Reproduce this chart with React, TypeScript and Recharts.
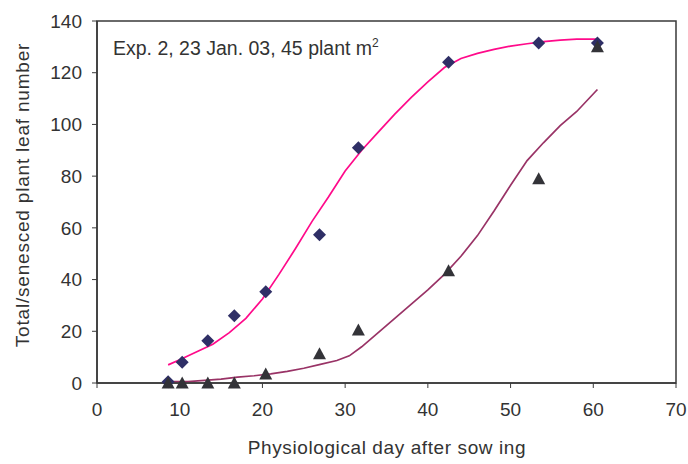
import React from 'react';
import { ComposedChart, Line, Scatter, XAxis, YAxis, ReferenceArea, Label } from 'recharts';

// Observed data
const obsDays = [8.6, 10.3, 13.4, 16.6, 20.4, 26.9, 31.6, 42.5, 53.4, 60.5];
const totalObs = [0.5, 8, 16.3, 26, 35.3, 57.3, 91, 124, 131.5, 131.5];
const senescedObs = [0, 0, 0, 0, 3.5, 11.3, 20.5, 43.4, 79, 130];

// Simulated curves
const totalSimDays = [8.6, 10, 12, 14, 16, 18, 20, 22, 24, 26, 28, 30, 32, 34, 36, 38, 40, 42, 44, 46, 48, 50, 52, 54, 56, 58, 60.5];
const totalSim = [7, 9, 12, 15, 19.5, 25, 32.5, 42, 52, 62.5, 72, 82, 90, 97, 104, 110.5, 116.5, 122, 125.5, 127.5, 129, 130.3, 131.2, 132, 132.6, 133, 133];
const senSimDays = [9.2, 11, 13, 15, 17, 19, 21, 23, 25, 27, 29, 30.5, 32, 34, 36, 38, 40, 42, 44, 46, 48, 50, 52, 54, 56, 58, 60.5];
const senSim = [0.5, 0.5, 1, 1.5, 2.3, 2.8, 3.5, 4.5, 5.7, 7.2, 8.7, 10.5, 14, 19.5, 25, 30.5, 36, 42, 49, 57, 66.5, 76.5, 86, 93, 99.5, 105, 113.5];

const xTicks = [0, 10, 20, 30, 40, 50, 60, 70];
const yTicks = [0, 20, 40, 60, 80, 100, 120, 140];

const xTitle = 'Physiological day after sow ing';
const yTitle = 'Total/senesced plant leaf number';

const zip = (xs: number[], ys: number[]) => xs.map((x, i) => ({ x, y: ys[i] }));
const totalObsData = zip(obsDays, totalObs);
const senObsData = zip(obsDays, senescedObs);
const totalSimData = zip(totalSimDays, totalSim);
const senSimData = zip(senSimDays, senSim);

const FONT = '"Liberation Sans", Arial, sans-serif';
const AXIS = '#3a3a3a';

const Diamond = (props: any) => {
  const { cx, cy } = props;
  const r = 6.5;
  return <path d={`M${cx},${cy - r}L${cx + r},${cy}L${cx},${cy + r}L${cx - r},${cy}Z`} fill="#2f2f66" />;
};
const Triangle = (props: any) => {
  const { cx, cy } = props;
  const w = 6.5;
  return <path d={`M${cx},${cy - 6.5}L${cx + w},${cy + 5.5}L${cx - w},${cy + 5.5}Z`} fill="#333338" />;
};

export default function App() {
  return (
    <div style={{ position: 'absolute', left: 0, top: 0, width: 688, height: 464, background: '#fff' }}>
      <ComposedChart width={688} height={464} margin={{ top: 21, right: 12, bottom: 0, left: 0 }}>
        <XAxis
          type="number"
          dataKey="x"
          domain={[0, 70]}
          ticks={xTicks}
          allowDataOverflow
          height={81}
          tickSize={5}
          tickMargin={15}
          axisLine={{ stroke: AXIS, strokeWidth: 1.5 }}
          tickLine={{ stroke: AXIS }}
          tick={{ fill: '#333', fontSize: 19, fontFamily: FONT }}
        >
          <Label
            content={() => (
              <text x={387} y={454} textAnchor="middle" fill="#333" fontSize={19} fontFamily={FONT} letterSpacing={0.6}>
                {xTitle}
              </text>
            )}
          />
        </XAxis>
        <YAxis
          type="number"
          domain={[0, 140]}
          ticks={yTicks}
          width={97}
          tickSize={5}
          tickMargin={10}
          axisLine={{ stroke: AXIS, strokeWidth: 1.5 }}
          tickLine={{ stroke: AXIS }}
          tick={{ fill: '#333', fontSize: 19, fontFamily: FONT }}
        >
          <Label
            content={() => (
              <text x={29} y={195} transform="rotate(-90 29 195)" textAnchor="middle" fill="#333" fontSize={19} fontFamily={FONT} letterSpacing={0.8}>
                {yTitle}
              </text>
            )}
          />
        </YAxis>
        <ReferenceArea x1={0} x2={70} y1={0} y2={140} fill="none" stroke={AXIS} strokeWidth={1.5} ifOverflow="visible" />
        <Line data={totalSimData} dataKey="y" type="linear" stroke="#ff0a8a" strokeWidth={1.7} dot={false} isAnimationActive={false} />
        <Line data={senSimData} dataKey="y" type="linear" stroke="#993366" strokeWidth={1.7} dot={false} isAnimationActive={false} />
        <Scatter data={totalObsData} dataKey="y" shape={Diamond} isAnimationActive={false} />
        <Scatter data={senObsData} dataKey="y" shape={Triangle} isAnimationActive={false} />
      </ComposedChart>
      <div style={{ position: 'absolute', left: 113, top: 36, fontFamily: FONT, fontSize: 19.5, color: '#333', whiteSpace: 'nowrap' }}>
        Exp. 2, 23 Jan. 03, 45 plant m<sup style={{ fontSize: 12 }}>2</sup>
      </div>
    </div>
  );
}
